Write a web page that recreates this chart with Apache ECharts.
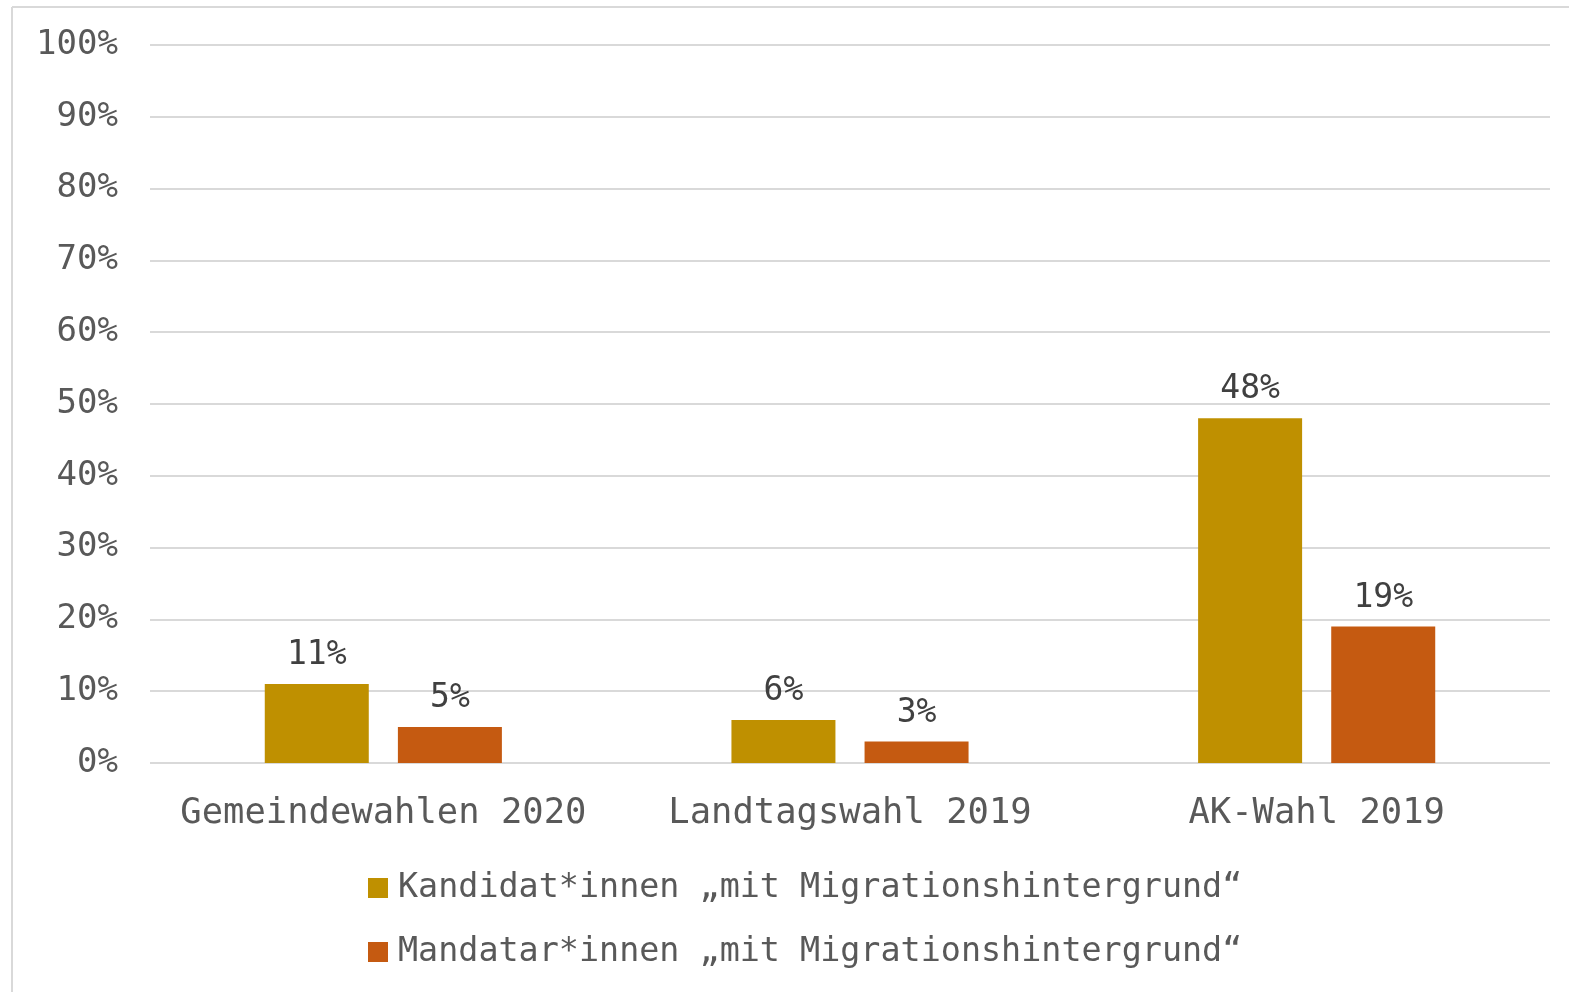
<!DOCTYPE html>
<html>
<head>
<meta charset="utf-8">
<script src="https://cdn.jsdelivr.net/npm/echarts@6/dist/echarts.min.js"></script>
<style>
  html, body { margin: 0; padding: 0; background: #fff; }
  #chart { width: 1569px; height: 992px; }
</style>
</head>
<body>
<div id="chart"></div>
<script>
const categories = ['Gemeindewahlen 2020', 'Landtagswahl 2019', 'AK-Wahl 2019']
const kandidatValues = [11, 6, 48]
const mandatarValues = [5, 3, 19]
const seriesNames = [
  'Kandidat*innen „mit Migrationshintergrund“',
  'Mandatar*innen „mit Migrationshintergrund“'
]

const FONT = '"DejaVu Sans Mono", monospace'

const chart = echarts.init(document.getElementById('chart'))

// shared label style for the values above the bars
const barLabel = {
  show: true,
  position: 'top',
  distance: 12,
  fontFamily: FONT,
  fontSize: 33,
  color: '#404040',
  formatter: (p) => p.value + '%'
}

const option = {
  backgroundColor: '#fff',
  animation: false,
  // light frame of the original figure (top and left edges only visible)
  graphic: [
    { type: 'line', shape: { x1: 12, y1: 7, x2: 1569, y2: 7 }, style: { stroke: '#d9d9d9', lineWidth: 2 } },
    { type: 'line', shape: { x1: 12, y1: 7, x2: 12, y2: 992 }, style: { stroke: '#d9d9d9', lineWidth: 2 } }
  ],
  grid: {
    left: 150,
    right: 19,
    top: 45,
    bottom: 229
  },
  legend: {
    orient: 'vertical',
    left: 368,
    top: 871,
    padding: 0,
    data: seriesNames,
    icon: 'rect',
    itemWidth: 20,
    itemHeight: 20,
    itemGap: 30,
    textStyle: {
      fontFamily: FONT,
      fontSize: 33.4,
      lineHeight: 34,
      color: '#595959',
      padding: [0, 0, 0, 5]
    }
  },
  xAxis: {
    type: 'category',
    data: categories,
    axisLine: { show: false },
    axisTick: { show: false },
    axisLabel: {
      interval: 0,
      hideOverlap: false,
      margin: 33,
      fontFamily: FONT,
      fontSize: 35.5,
      color: '#595959'
    }
  },
  yAxis: {
    type: 'value',
    min: 0,
    max: 100,
    interval: 10,
    axisLine: { show: false },
    axisTick: { show: false },
    splitLine: { lineStyle: { color: '#d9d9d9', width: 2 } },
    axisLabel: {
      margin: 32,
      fontFamily: FONT,
      fontSize: 34,
      color: '#595959',
      padding: [5, 0, 0, 0],
      formatter: '{value}%'
    }
  },
  series: [
    {
      name: seriesNames[0],
      type: 'bar',
      data: kandidatValues,
      barWidth: 104,
      barGap: '28%',
      itemStyle: { color: '#bf9000' },
      label: barLabel
    },
    {
      name: seriesNames[1],
      type: 'bar',
      data: mandatarValues,
      barWidth: 104,
      itemStyle: { color: '#c55a11' },
      label: barLabel
    }
  ]
}

chart.setOption(option)
</script>
</body>
</html>
